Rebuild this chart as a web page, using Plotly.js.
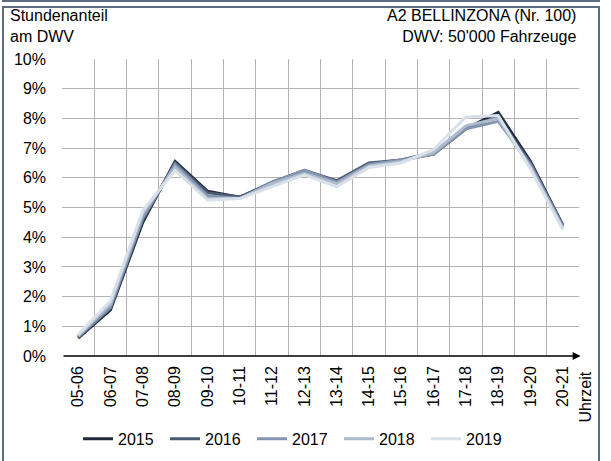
<!DOCTYPE html>
<html>
<head>
<meta charset="utf-8">
<script src="https://cdn.plot.ly/plotly-3.0.1.min.js"></script>
<style>
  html, body { margin: 0; padding: 0; background: #ffffff; }
  #wrap { position: relative; width: 611px; height: 461px; overflow: hidden; }
  #chart { position: absolute; left: 0; top: 0; width: 611px; height: 461px; }
  #frame { position: absolute; left: 2px; top: 6px; width: 598px; height: 470px; border: 2px solid #5d6c83; box-sizing: border-box; pointer-events: none; }
  #topline { position: absolute; left: 2px; top: -10px; width: 598px; height: 12px; border: 2px solid #5d6c83; box-sizing: border-box; pointer-events: none; }
</style>
</head>
<body>
<div id="wrap">
  <div id="chart"></div>
  <div id="frame"></div>
  <div id="topline"></div>
</div>
<script>
const categories = ["05-06","06-07","07-08","08-09","09-10","10-11","11-12","12-13","13-14","14-15","15-16","16-17","17-18","18-19","19-20","20-21"];
const years = ["2015","2016","2017","2018","2019"];
const v2015 = [0.60, 1.55, 4.50, 6.55, 5.55, 5.35, 5.80, 6.20, 5.85, 6.45, 6.60, 6.80, 7.65, 8.20, 6.55, 4.40];
const v2016 = [0.62, 1.60, 4.60, 6.50, 5.50, 5.35, 5.85, 6.25, 5.90, 6.50, 6.60, 6.85, 7.70, 8.05, 6.50, 4.40];
const v2017 = [0.65, 1.65, 4.65, 6.45, 5.40, 5.30, 5.85, 6.25, 5.85, 6.45, 6.60, 6.80, 7.65, 7.90, 6.45, 4.35];
const v2018 = [0.68, 1.75, 4.80, 6.35, 5.30, 5.30, 5.80, 6.15, 5.80, 6.40, 6.55, 6.85, 7.75, 8.00, 6.35, 4.30];
const v2019 = [0.72, 1.85, 4.90, 6.25, 5.25, 5.30, 5.70, 6.10, 5.70, 6.35, 6.50, 6.95, 8.05, 8.10, 6.30, 4.25];
const seriesValues = [v2015, v2016, v2017, v2018, v2019];
const colors = ["#1f2939", "#4a5a73", "#8394ae", "#aebbcd", "#d8e0ea"];
const yTickVals = [0,1,2,3,4,5,6,7,8,9,10];
const yTickText = ["0%","1%","2%","3%","4%","5%","6%","7%","8%","9%","10%"];

const FONT = "Liberation Sans, Arial, sans-serif";

const traces = years.map((y, i) => ({
  type: "scatter",
  mode: "lines",
  name: y,
  x: categories,
  y: seriesValues[i],
  line: { color: colors[i], width: 3 },
  hoverinfo: "skip"
}));

const layout = {
  width: 611,
  height: 461,
  margin: { l: 62, r: 32, t: 59, b: 105, autoexpand: false },
  paper_bgcolor: "#ffffff",
  plot_bgcolor: "#ffffff",
  font: { family: FONT, size: 16, color: "#000000" },
  showlegend: true,
  legend: {
    orientation: "h",
    x: 0.031, xanchor: "left",
    y: -0.279, yanchor: "middle",
    font: { family: FONT, size: 16, color: "#000000" },
    entrywidth: 42,
    entrywidthmode: "pixels",
    bgcolor: "rgba(0,0,0,0)",
    itemclick: false
  },
  xaxis: {
    type: "category",
    range: [-0.5, categories.length - 0.5],
    tickson: "boundaries",
    showgrid: true,
    gridcolor: "#b3b3b3",
    gridwidth: 1,
    showline: false,
    zeroline: false,
    ticks: "",
    tickangle: -90,
    ticklabelstandoff: 6,
    automargin: false,
    tickfont: { family: FONT, size: 16, color: "#000000" },
    fixedrange: true
  },
  yaxis: {
    range: [0, 10],
    tickvals: yTickVals,
    ticktext: yTickText,
    showgrid: true,
    gridcolor: "#b3b3b3",
    gridwidth: 1,
    zeroline: false,
    showline: false,
    ticks: "",
    ticklabelstandoff: 15,
    automargin: false,
    tickfont: { family: FONT, size: 16, color: "#000000" },
    fixedrange: true
  },
  annotations: [
    { xref: "x", yref: "y", x: 15.55, y: 0, axref: "x", ayref: "y", ax: -0.5, ay: 0,
      showarrow: true, arrowhead: 2, arrowsize: 1, arrowwidth: 1.6, arrowcolor: "#000000", text: "" },
    { xref: "paper", yref: "paper", x: -0.104, y: 1.182, xanchor: "left", yanchor: "top",
      align: "left", showarrow: false, text: "Stundenanteil<br>am DWV",
      font: { family: FONT, size: 16, color: "#000000" } },
    { xref: "paper", yref: "paper", x: 1.0, y: 1.182, xanchor: "right", yanchor: "top",
      align: "right", showarrow: false, text: "A2 BELLINZONA (Nr. 100)<br>DWV: 50'000 Fahrzeuge",
      font: { family: FONT, size: 16, color: "#000000" } },
    { xref: "paper", yref: "paper", x: 1.0135, y: -0.044, xanchor: "center", yanchor: "top",
      showarrow: false, textangle: -90, text: "Uhrzeit",
      font: { family: FONT, size: 16, color: "#000000" } }
  ]
};

Plotly.newPlot("chart", traces, layout, { displayModeBar: false, staticPlot: true });
</script>
</body>
</html>
